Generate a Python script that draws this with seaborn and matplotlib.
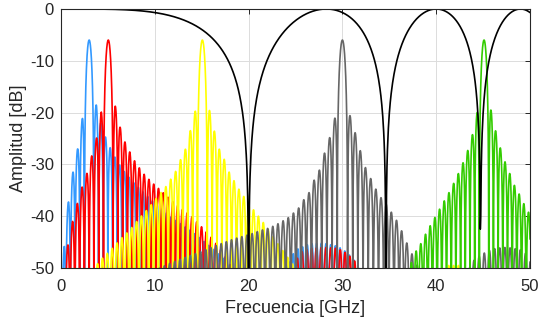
import numpy as np
import pandas as pd
import seaborn as sns
import matplotlib
matplotlib.use("Agg")
import matplotlib.pyplot as plt

# --- values ------------------------------------------------------------
# carriers: centre [GHz], peak [dB], lobe spacing [GHz], colour
names = ["azul", "rojo", "amarillo", "gris", "verde"]
f_centre = [3.0, 5.04, 15.07, 30.0, 45.1]
peak_db = [-6.0, -6.0, -6.0, -6.0, -6.0]
lobe_T = [0.50, 0.51, 0.52, 0.55, 0.50]
colores = ["#3399FF", "#FF0000", "#FFFF00", "#666666", "#33CC00"]

# side-lobe tops (frequency, dB) for each carrier
env_azul_f = [0.0, 0.35, 0.82, 1.31, 1.82, 2.32, 3.78, 4.3, 4.8, 5.3, 6.0, 7.0, 8.0, 10.0, 12.0, 14.0,
              16.0, 17.5, 18.5, 20.0, 23.0, 24.0, 25.0, 26.5, 28.0, 29.5, 30.5, 31.5, 32.2, 34.0, 50.0]
env_azul_db = [-60, -44, -36.5, -31, -26.5, -20.5, -18.5, -22.5, -25, -27, -29.5, -32, -34, -37.5, -40.5,
               -43, -46, -48.5, -52, -60, -60, -49.5, -46.5, -45.3, -45.2, -45.8, -47, -49, -52, -70, -80]

env_rojo_f = [0.0, 0.32, 0.78, 1.24, 1.74, 2.2, 2.73, 3.2, 3.77, 4.3, 5.76, 6.3, 6.8, 7.3, 7.8, 8.7, 9.7,
              10.8, 11.8, 12.8, 13.8, 14.8, 15.8, 16.8, 17.8, 18.8, 20.0, 23.0, 24.5, 25.5, 26.5, 28.0,
              29.5, 30.5, 31.5, 32.3, 34.0, 50.0]
env_rojo_db = [-60, -50, -44.9, -40.9, -37.5, -34.6, -31.9, -28.8, -25, -19.8, -18.5, -22.8, -25.6, -27.5,
               -29.2, -31.6, -33.5, -35.3, -37, -38.5, -39.8, -41.7, -43.6, -45.9, -48.5, -52, -58, -60,
               -50.5, -47, -46.2, -46, -46.2, -47.2, -49, -52, -70, -80]

env_amarillo_f = [0.0, 3.5, 4.3, 5.3, 6.3, 7.3, 8.2, 9.3, 10.3, 11.3, 12.3, 12.8, 13.3, 13.75, 14.36,
                  15.8, 16.4, 16.9, 17.4, 17.9, 18.9, 19.9, 20.8, 21.9, 22.8, 23.8, 24.8, 25.5, 27.0,
                  39.5, 41.0, 42.5, 44.0, 50.0]
env_amarillo_db = [-60, -50, -48.3, -46.5, -44.5, -42.7, -40.7, -38.5, -36.2, -34, -31.1, -28.8, -26.9,
                   -23.7, -19.3, -19.3, -23.9, -27.2, -29, -31.4, -34.6, -37.3, -39.4, -42, -44.5, -47,
                   -49.5, -52, -60, -60, -49.5, -49.5, -60, -70]

env_gris_f = [0.0, 9.5, 10.5, 11.6, 13.0, 14.8, 16.6, 18.4, 20.3, 21.2, 22.3, 23.3, 24.3, 25.3, 25.8,
              26.4, 26.9, 27.47, 28.07, 28.75, 29.42, 30.6, 31.4, 32.0, 32.6, 33.2, 33.7, 34.3, 34.9,
              35.4, 36.0, 36.4, 36.9, 37.4, 37.9, 38.5, 40.0, 42.5, 43.7, 44.5, 45.4, 46.3, 47.5, 48.9,
              49.8, 50.0]
env_gris_db = [-60, -52, -50, -49.1, -48.1, -46.9, -45.6, -44.4, -43.4, -42.8, -42.2, -41.3, -40.2, -38.5,
               -37, -35.6, -33.3, -31.5, -27.9, -24.2, -19.4, -19.3, -24.1, -27.9, -31.4, -33.3, -35.3,
               -36.9, -38.2, -39.8, -41.4, -43.2, -45.3, -47.2, -49.1, -52, -60, -55, -49, -47.8, -46.8,
               -46.2, -46, -46.4, -47.5, -48]

env_verde_f = [0.0, 35.0, 36.0, 37.0, 37.5, 37.9, 38.5, 38.9, 39.4, 39.9, 40.4, 40.9, 41.4, 41.9, 42.4,
               42.9, 43.4, 43.9, 44.45, 45.8, 46.4, 46.9, 47.4, 47.9, 48.4, 49.0, 49.4, 49.9, 50.0]
env_verde_db = [-80, -60, -53, -50, -48.5, -46.5, -44.9, -43.3, -41.7, -40.1, -38.5, -36.9, -35.3, -33.5,
                -31.6, -29.5, -27.1, -24, -19.2, -19.2, -24, -27.2, -29.8, -32, -34.3, -36.2, -37.8,
                -39.4, -39.8]

envelopes = [(env_azul_f, env_azul_db), (env_rojo_f, env_rojo_db), (env_amarillo_f, env_amarillo_db),
             (env_gris_f, env_gris_db), (env_verde_f, env_verde_db)]

# black filter response: first null read at 20 GHz
f_nulo = 20.0

# --- curves ---------------------------------------------------------------
f = np.arange(0, 50.0001, 0.005)
frames = []
for name, fc, pk, T, (ef, edb) in zip(names, f_centre, peak_db, lobe_T, envelopes):
    x = (f - fc) / T
    side = np.interp(f, ef, edb) + 20 * np.log10(np.abs(np.sin(np.pi * x)) + 1e-12)
    main = pk + 20 * np.log10(np.abs(np.sinc(x)) + 1e-12)
    db = np.where(np.abs(x) < 1, main, side)
    frames.append(pd.DataFrame({"f": f, "db": np.maximum(db, -200), "serie": name}))

f_k = np.arange(0, 50.0001, 0.05)
h_db = 20 * np.log10(np.abs(np.cos(np.pi * f_k ** 2 / (2 * f_nulo ** 2))) + 1e-12)
filtro = pd.DataFrame({"f": f_k, "db": np.maximum(h_db, -200)})

# --- plot -------------------------------------------------------------------
sns.set_style("white")
plt.rcParams['font.family'] = ['Liberation Sans', 'DejaVu Sans']
plt.rcParams['axes.unicode_minus'] = False

fig, ax = plt.subplots(figsize=(5.39, 3.21), dpi=100)
fig.subplots_adjust(left=0.1132, right=0.9833, top=0.972, bottom=0.165)

for d, c in zip(frames, colores):
    sns.lineplot(data=d, x="f", y="db", color=c, lw=1.2, estimator=None, ax=ax)
sns.lineplot(data=filtro, x="f", y="db", color="black", lw=1.2, estimator=None, ax=ax)

ax.set_xlim(0, 50)
ax.set_ylim(-50, 0)
ax.set_xticks([0, 10, 20, 30, 40, 50])
ax.set_yticks([0, -10, -20, -30, -40, -50])
ax.grid(True, color="#dcdcdc", lw=0.7)
ax.set_axisbelow(True)
ax.tick_params(direction="in", length=3.5, width=0.7, top=True, right=True,
               labelsize=12, colors="#262626")
ax.tick_params(axis="x", pad=8)
ax.tick_params(axis="y", pad=5)
for s in ax.spines.values():
    s.set_color("#262626")
    s.set_linewidth(0.8)
ax.set_xlabel("Frecuencia [GHz]", fontsize=13, color="#262626", labelpad=4)
ax.set_ylabel("Amplitud [dB]", fontsize=13, color="#262626", labelpad=2)

fig.savefig("out.png", dpi=100)
